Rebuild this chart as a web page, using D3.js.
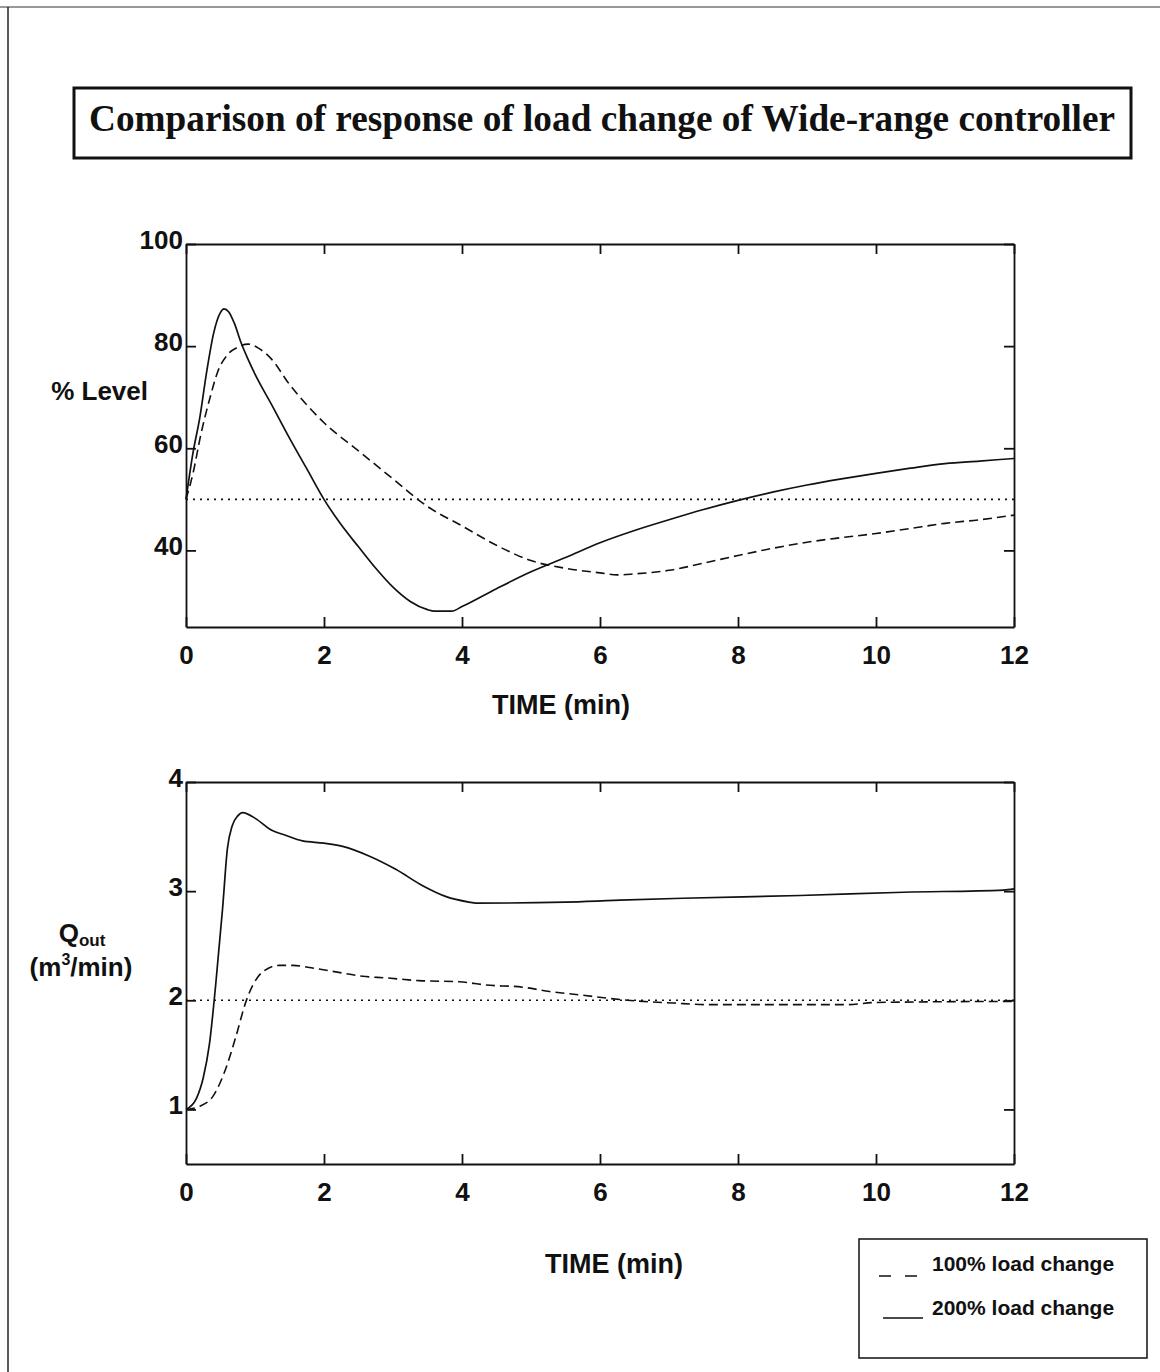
<!DOCTYPE html>
<html>
<head>
<meta charset="utf-8">
<script src="https://cdn.jsdelivr.net/npm/d3@7/dist/d3.min.js"></script>
<style>
  body { margin: 0; background: #fff; }
  svg { display: block; }
  .tick text { font-family: "Liberation Sans", Arial, sans-serif; font-weight: bold; font-size: 26px; fill: #111; }
  .lbl { font-family: "Liberation Sans", Arial, sans-serif; font-weight: bold; fill: #111; }
</style>
</head>
<body>
<svg id="chart" width="1160" height="1372"></svg>
<script>
// ---------- data ----------
const titleText = "Comparison of response of load change of Wide-range controller";
const xTicks = [0, 2, 4, 6, 8, 10, 12];
const levelTicks = [40, 60, 80, 100];
const flowTicks = [1, 2, 3, 4];
const levelSetpoint = 50;
const flowSetpoint = 2;
const legendLabels = ["100% load change", "200% load change"];

// % Level, 200% load change (solid)
const levelTime200 = [0, 0.1, 0.2, 0.3, 0.4, 0.5, 0.55, 0.62, 0.7, 0.8, 0.9, 1.0, 1.25, 1.5, 1.75, 2.0, 2.25, 2.5, 2.75, 3.0, 3.25, 3.5, 3.6, 3.85, 4.0, 4.5, 5.0, 5.5, 6.0, 6.5, 7.0, 7.5, 8.0, 8.5, 9.0, 9.5, 10.0, 10.5, 11.0, 11.5, 12.0];
const level200 = [50, 59, 66, 75, 82.5, 86.6, 87.3, 86.7, 84.5, 80.6, 77.4, 74.5, 68.3, 62, 56, 50, 45, 40.7, 36.5, 32.8, 30, 28.4, 28.1, 28.1, 29, 32.5, 35.8, 38.6, 41.5, 43.9, 46, 48, 49.8, 51.4, 52.8, 54, 55.1, 56.1, 57, 57.5, 58];

// % Level, 100% load change (dashed)
const levelTime100 = [0, 0.1, 0.22, 0.35, 0.46, 0.6, 0.75, 0.9, 1.05, 1.23, 1.5, 1.75, 2.0, 2.5, 3.0, 3.5, 4.0, 4.5, 5.0, 5.5, 6.0, 6.25, 6.5, 7.0, 7.5, 8.0, 8.5, 9.0, 9.5, 10.0, 10.5, 11.0, 11.5, 12.0];
const level100 = [50, 55, 63, 70, 75, 78.3, 79.8, 80.4, 79.6, 77.6, 72.5, 68.5, 65, 59.5, 54, 48.6, 44.8, 41, 38, 36.5, 35.6, 35.2, 35.4, 36.1, 37.5, 39, 40.4, 41.6, 42.5, 43.3, 44.3, 45.3, 46, 46.9];

// Qout, 200% load change (solid)
const flowTime200 = [0, 0.15, 0.25, 0.34, 0.43, 0.53, 0.6, 0.67, 0.75, 0.82, 1.02, 1.21, 1.45, 1.69, 2.0, 2.27, 2.66, 3.04, 3.43, 3.77, 4.1, 4.2, 5.5, 6.2, 7.2, 8.9, 10.4, 11.85, 12];
const flow200 = [1, 1.1, 1.29, 1.6, 2.14, 2.84, 3.39, 3.6, 3.69, 3.72, 3.66, 3.57, 3.51, 3.46, 3.44, 3.41, 3.32, 3.2, 3.05, 2.95, 2.9, 2.89, 2.9, 2.915, 2.935, 2.96, 2.99, 3.01, 3.02];

// Qout, 100% load change (dashed)
const flowTime100 = [0, 0.2, 0.39, 0.58, 0.72, 0.87, 0.97, 1.11, 1.35, 1.55, 1.79, 2.17, 2.56, 2.9, 3.38, 3.96, 4.35, 4.88, 5.27, 5.7, 6.4, 7.06, 7.55, 9.58, 10, 12];
const flow100 = [1, 1.03, 1.12, 1.38, 1.66, 1.99, 2.14, 2.26, 2.32, 2.32, 2.3, 2.26, 2.22, 2.205, 2.18, 2.17, 2.14, 2.12, 2.08, 2.05, 2.0, 1.975, 1.96, 1.96, 1.98, 1.99];

// ---------- drawing ----------
const svg = d3.select("#chart");
const ink = "#111";

// page frame (scan edges)
svg.append("line").attr("x1", 0).attr("x2", 1160).attr("y1", 7).attr("y2", 7)
  .attr("stroke", "#333").attr("stroke-width", 1.2);
svg.append("line").attr("x1", 8).attr("x2", 8).attr("y1", 7).attr("y2", 1372)
  .attr("stroke", "#222").attr("stroke-width", 1.5);

// title box
svg.append("rect").attr("x", 74).attr("y", 88).attr("width", 1057).attr("height", 70)
  .attr("fill", "none").attr("stroke", ink).attr("stroke-width", 3);
const title = svg.append("text").attr("x", 602).attr("y", 131)
  .attr("text-anchor", "middle")
  .style("font-family", "'Liberation Serif', 'Times New Roman', serif")
  .style("font-weight", "bold").style("font-size", "37px").style("fill", ink)
  .text(titleText);
const tw = title.node().getComputedTextLength();
if (Math.abs(tw - 1026) > 6) title.attr("textLength", 1026).attr("lengthAdjust", "spacingAndGlyphs");

function panel(cfg) {
  const x = d3.scaleLinear().domain([0, 12]).range([cfg.left, cfg.right]);
  const y = d3.scaleLinear().domain(cfg.yDomain).range([cfg.bottom, cfg.top]);
  const g = svg.append("g");

  const styleAxis = sel => {
    sel.select(".domain").attr("stroke", ink).attr("stroke-width", 1.8);
    sel.selectAll(".tick line").attr("stroke", ink).attr("stroke-width", 1.8);
  };

  g.append("g").attr("transform", `translate(0,${cfg.bottom})`)
    .call(d3.axisBottom(x).tickValues(xTicks).tickSizeInner(-10).tickSizeOuter(0).tickPadding(19).tickFormat(d3.format("d")))
    .call(styleAxis);
  g.append("g").attr("transform", `translate(0,${cfg.top})`)
    .call(d3.axisTop(x).tickValues(xTicks).tickSizeInner(-10).tickSizeOuter(0).tickFormat(""))
    .call(styleAxis);
  const yl = g.append("g").attr("transform", `translate(${cfg.left},0)`)
    .call(d3.axisLeft(y).tickValues(cfg.yTicks).tickSizeInner(-10).tickSizeOuter(0).tickPadding(3).tickFormat(d3.format("d")))
    .call(styleAxis);
  yl.selectAll(".tick text").attr("dy", "0.16em");
  g.append("g").attr("transform", `translate(${cfg.right},0)`)
    .call(d3.axisRight(y).tickValues(cfg.yTicks).tickSizeInner(-10).tickSizeOuter(0).tickFormat(""))
    .call(styleAxis);
  g.selectAll(".domain").attr("fill", "none");

  // setpoint dotted line
  g.append("line").attr("x1", x(0)).attr("x2", x(12))
    .attr("y1", y(cfg.setpoint)).attr("y2", y(cfg.setpoint))
    .attr("stroke", ink).attr("stroke-width", 1.6).attr("stroke-dasharray", "2,5");

  const line = d3.line().x(d => x(d[0])).y(d => y(d[1])).curve(d3.curveMonotoneX);
  g.append("path").datum(d3.zip(cfg.t100, cfg.v100)).attr("d", line)
    .attr("fill", "none").attr("stroke", ink).attr("stroke-width", 1.6).attr("stroke-dasharray", "9,5");
  g.append("path").datum(d3.zip(cfg.t200, cfg.v200)).attr("d", line)
    .attr("fill", "none").attr("stroke", ink).attr("stroke-width", 1.7);
  return {x, y};
}

panel({left: 186, right: 1014, top: 244, bottom: 627, yDomain: [25, 100], yTicks: levelTicks,
  setpoint: levelSetpoint, t100: levelTime100, v100: level100, t200: levelTime200, v200: level200});
panel({left: 186, right: 1014, top: 782, bottom: 1164, yDomain: [0.5, 4], yTicks: flowTicks,
  setpoint: flowSetpoint, t100: flowTime100, v100: flow100, t200: flowTime200, v200: flow200});

// axis titles
svg.append("text").attr("class", "lbl").attr("x", 148).attr("y", 400).attr("text-anchor", "end")
  .style("font-size", "26px").text("% Level");
svg.append("text").attr("class", "lbl").attr("x", 561).attr("y", 714).attr("text-anchor", "middle")
  .style("font-size", "27px").text("TIME (min)");
svg.append("text").attr("class", "lbl").attr("x", 614).attr("y", 1273).attr("text-anchor", "middle")
  .style("font-size", "27px").text("TIME (min)");

const q = svg.append("text").attr("class", "lbl").attr("x", 82).attr("y", 942).attr("text-anchor", "middle")
  .style("font-size", "26px");
q.append("tspan").text("Q");
q.append("tspan").attr("dy", 4).style("font-size", "17px").text("out");
const u = svg.append("text").attr("class", "lbl").attr("x", 81).attr("y", 976).attr("text-anchor", "middle")
  .style("font-size", "26px");
u.append("tspan").text("(m");
u.append("tspan").attr("dy", -11).style("font-size", "16px").text("3");
u.append("tspan").attr("dy", 11).text("/min)");

// legend
svg.append("rect").attr("x", 859).attr("y", 1239).attr("width", 288).attr("height", 119)
  .attr("fill", "none").attr("stroke", ink).attr("stroke-width", 1.5);
svg.append("line").attr("x1", 879).attr("x2", 918).attr("y1", 1276).attr("y2", 1276)
  .attr("stroke", ink).attr("stroke-width", 1.5).attr("stroke-dasharray", "12,14");
svg.append("line").attr("x1", 883).attr("x2", 923).attr("y1", 1318).attr("y2", 1318)
  .attr("stroke", ink).attr("stroke-width", 1.5);
legendLabels.forEach((s, i) => {
  svg.append("text").attr("class", "lbl").attr("x", 932).attr("y", 1271 + i * 44)
    .style("font-size", "21px").text(s);
});
</script>
</body>
</html>
